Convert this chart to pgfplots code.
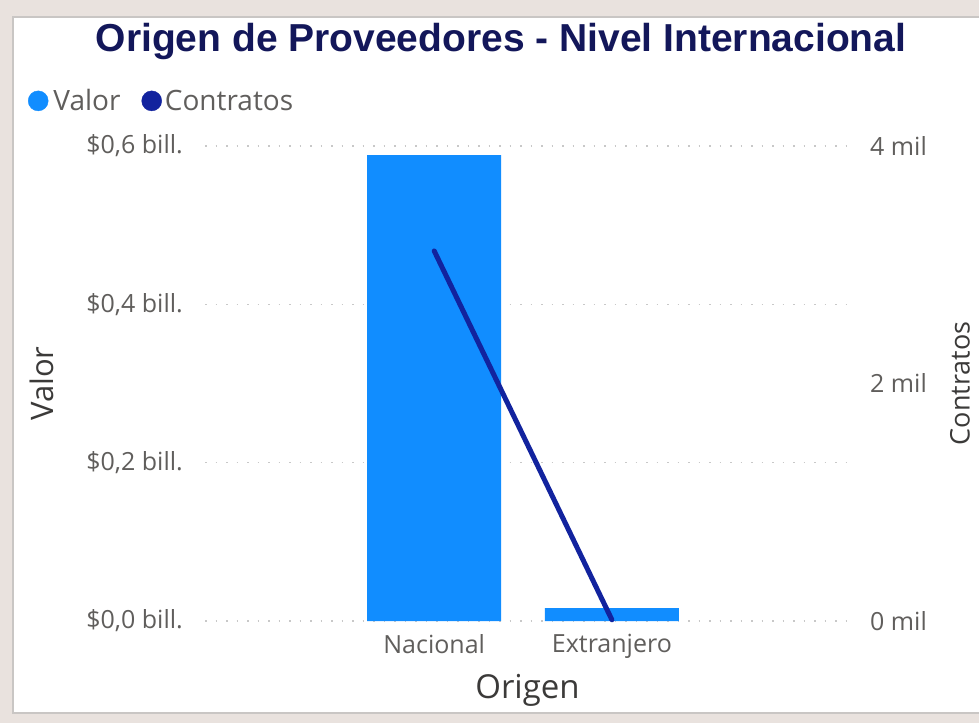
\documentclass[border=0pt]{standalone}
\usepackage{pgfplots}
\pgfplotsset{compat=1.18}
\usepackage{fontspec}
\setmainfont{Open Sans}
\newfontfamily\titlefont{Liberation Sans}
\definecolor{bgpink}{HTML}{E9E2DE}
\definecolor{cardborder}{HTML}{C9C6C4}
\definecolor{barblue}{HTML}{118DFF}
\definecolor{lineblue}{HTML}{12239E}
\definecolor{titlenavy}{HTML}{13175A}
\definecolor{tickgrey}{HTML}{605E5C}
\definecolor{labelgrey}{HTML}{3B3A39}
\definecolor{gridgrey}{HTML}{C8C8C8}
\begin{document}
\begin{tikzpicture}[x=1pt,y=1pt]
\useasboundingbox (0,0) rectangle (979,723);
\fill[bgpink] (0,0) rectangle (979,723);
\filldraw[fill=white, draw=cardborder, line width=1.5pt] (13,10) rectangle (990,706);
\node[font=\titlefont\bfseries\fontsize{39}{41}\selectfont, text=titlenavy] at (501,681) {Origen de Proveedores - Nivel Internacional};

\begin{axis}[at={(205pt,102pt)}, anchor=south west, scale only axis,
  width=645pt, height=475pt,
  xmin=-1.29, xmax=2.34, ymin=0, ymax=0.6,
  axis x line*=bottom, axis y line*=left, axis line style={draw=none},
  major tick length=0pt,
  xtick={0,1}, xticklabels={Nacional,Extranjero},
  ytick={0,0.2,0.4,0.6},
  yticklabels={{\$0,0 bill.},{\$0,2 bill.},{\$0,4 bill.},{\$0,6 bill.}},
  ymajorgrids, grid style={gridgrey, line width=1.5pt, dash pattern=on 1.5pt off 9pt},
  tick label style={font=\fontsize{25}{27}\selectfont, text=tickgrey},
  yticklabel style={anchor=east, inner sep=0pt, xshift=-22pt},
  xticklabel style={anchor=north, inner sep=0pt, yshift=-13pt},
  xlabel={Origen}, ylabel={Valor},
  every axis x label/.style={at={(axis description cs:0.5,-0.1453)}, anchor=center, font=\fontsize{33}{35}\selectfont, text=labelgrey},
  every axis y label/.style={at={(axis description cs:-0.2527,0.50)}, anchor=center, rotate=90, font=\fontsize{31}{33}\selectfont, text=labelgrey},
  legend columns=2,
  legend style={at={(axis description cs:-0.2744,1.095)}, anchor=west, draw=none, fill=none,
    inner sep=0pt, outer sep=0pt, font=\fontsize{28}{30}\selectfont, text=tickgrey,
    /tikz/every even column/.append style={column sep=19pt}},
  legend cell align=left,
  clip=false]
\addlegendimage{legend image code/.code={\fill[barblue] (10pt,0pt) circle (10pt); \path (23pt,0pt);}}
\addlegendentry{Valor}
\addlegendimage{legend image code/.code={\fill[lineblue] (10pt,0pt) circle (10pt); \path (21pt,0pt);}}
\addlegendentry{Contratos}
\addplot[ybar, bar width=134pt, fill=barblue, draw=none, forget plot] coordinates {(0,0.5886) (1,0.0164)};
\end{axis}

\begin{axis}[at={(205pt,102pt)}, anchor=south west, scale only axis,
  width=645pt, height=475pt,
  xmin=-1.29, xmax=2.34, ymin=0, ymax=4000,
  axis x line=none, axis y line*=right, axis line style={draw=none},
  major tick length=0pt,
  ytick={0,2000,4000}, yticklabels={0 mil,2 mil,4 mil},
  tick label style={font=\fontsize{25}{27}\selectfont, text=tickgrey},
  yticklabel style={anchor=west, inner sep=0pt, xshift=20pt},
  ylabel={Contratos},
  every axis y label/.style={at={(axis description cs:1.1705,0.5)}, anchor=center, rotate=90, font=\fontsize{27}{29}\selectfont, text=labelgrey},
  clip=false]
\addplot[lineblue, line width=5pt, line cap=round] coordinates {(0,3116) (1,10)};
\end{axis}
\end{tikzpicture}
\end{document}
